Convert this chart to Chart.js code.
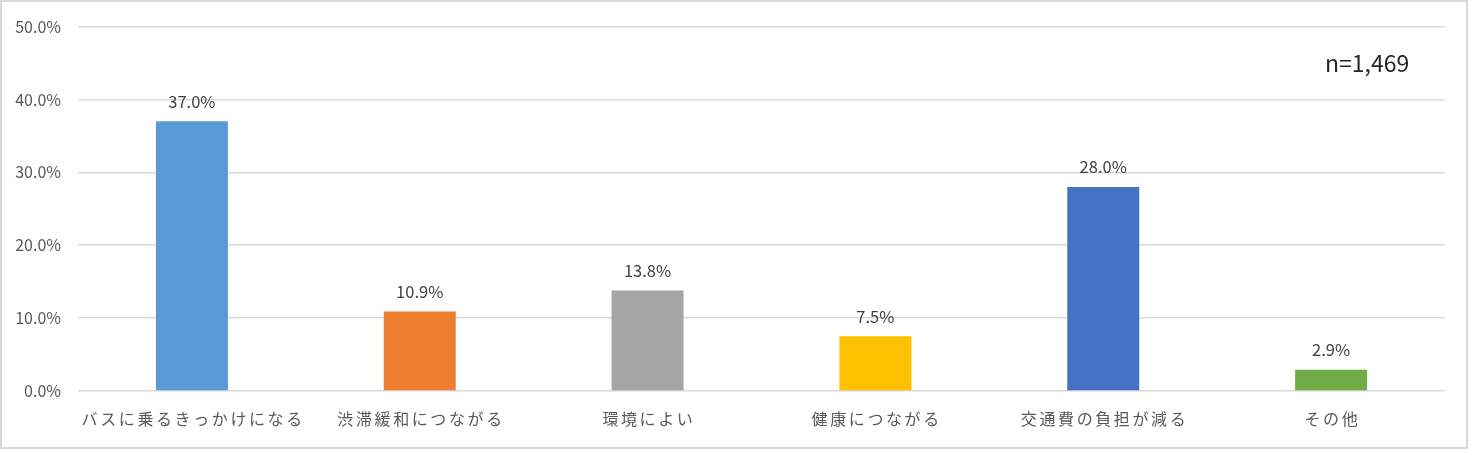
<!DOCTYPE html>
<html>
<head>
<meta charset="utf-8">
<script src="https://cdn.jsdelivr.net/npm/chart.js@4"></script>
<style>
  html, body { margin: 0; padding: 0; background: #fff; }
  #wrap { position: relative; width: 1468px; height: 449px; }
  #chart { position: absolute; left: 0; top: 0; }
</style>
</head>
<body>
<div id="wrap"><canvas id="chart" width="1468" height="449"></canvas></div>
<script>
// data
const categories = ["バスに乗るきっかけになる", "渋滞緩和につながる", "環境によい", "健康につながる", "交通費の負担が減る", "その他"];
const shares = [37.0, 10.9, 13.8, 7.5, 28.0, 2.9];
const barColors = ["#5B9BD5", "#ED7D31", "#A5A5A5", "#FFC000", "#4472C4", "#70AD47"];
const sampleNote = "n=1,469";

const FONT = "'Noto Sans CJK JP', 'Noto Sans', sans-serif";
const LABEL_SPACING = 2.6;

// value labels over bars, spaced category labels, n note, outer frame
const extras = {
  id: "extras",
  afterDatasetsDraw(chart) {
    const ctx = chart.ctx;
    const meta = chart.getDatasetMeta(0);
    ctx.save();
    ctx.font = "16.5px " + FONT;
    ctx.fillStyle = "#404040";
    ctx.textAlign = "center";
    ctx.textBaseline = "middle";
    meta.data.forEach((bar, i) => {
      ctx.fillText(shares[i].toFixed(1) + "%", bar.x, bar.y - 20);
    });

    // category labels (Chart.js has no letter spacing option)
    const xs = chart.scales.x;
    ctx.font = "16px " + FONT;
    ctx.fillStyle = "#595959";
    ctx.letterSpacing = LABEL_SPACING + "px";
    categories.forEach((c, i) => {
      ctx.fillText(c, xs.getPixelForTick(i) + LABEL_SPACING / 2, xs.top + 28);
    });
    ctx.letterSpacing = "0px";

    ctx.font = "23px " + FONT;
    ctx.fillStyle = "#262626";
    ctx.textAlign = "left";
    ctx.fillText(sampleNote, 1325, 63);
    ctx.restore();
  },
  afterDraw(chart) {
    const ctx = chart.ctx;
    ctx.save();
    ctx.strokeStyle = "#d9d9d9";
    ctx.lineWidth = 2;
    ctx.strokeRect(1, 1, chart.width - 2, chart.height - 2);
    ctx.restore();
  }
};

new Chart(document.getElementById("chart"), {
  type: "bar",
  data: {
    labels: categories,
    datasets: [{
      data: shares,
      backgroundColor: barColors,
      barPercentage: 0.316,
      categoryPercentage: 1
    }]
  },
  options: {
    responsive: false,
    animation: false,
    layout: { padding: { left: 0, right: 23, top: 22, bottom: 0 } },
    plugins: { legend: { display: false }, tooltip: { enabled: false } },
    scales: {
      x: {
        grid: { display: false, drawTicks: false },
        border: { display: false },
        ticks: { display: false },
        afterFit: s => { s.height = 58; }
      },
      y: {
        min: 0,
        max: 50,
        grid: { color: "#d9d9d9", lineWidth: 1.5, drawTicks: false },
        border: { display: false },
        ticks: {
          stepSize: 10,
          color: "#595959",
          font: { family: FONT, size: 16 },
          padding: 17,
          callback: v => v.toFixed(1) + "%"
        },
        afterFit: s => { s.width = 78; }
      }
    }
  },
  plugins: [extras]
});
</script>
</body>
</html>
